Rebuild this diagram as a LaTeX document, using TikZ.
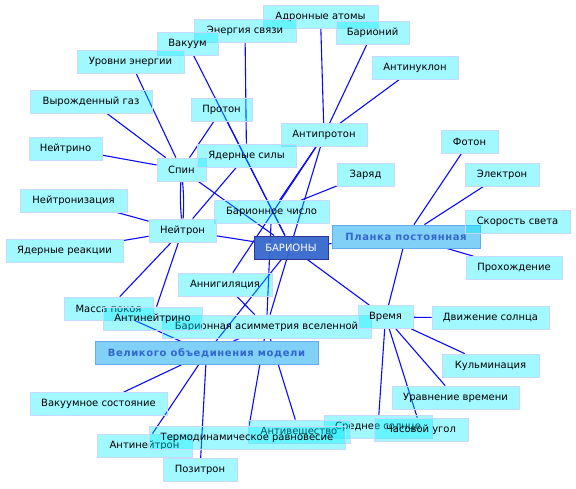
\documentclass[tikz,border=0pt]{standalone}
\usepackage{fontspec}
\setmainfont{DejaVu Sans}
\newfontfamily\theoryfont{DejaVu Sans}[LetterSpace=6]
\usepackage{xcolor}
\usepackage{tikz}
\pgfdeclarelayer{edges}
\pgfsetlayers{edges,main}

\definecolor{termfill}{RGB}{0,236,255}
\definecolor{termline}{RGB}{200,216,255}
\definecolor{corefill}{RGB}{51,102,204}
\definecolor{coreline}{RGB}{51,51,153}
\definecolor{theoryfill}{RGB}{128,208,248}
\definecolor{theoryline}{RGB}{102,170,238}
\definecolor{theorytext}{RGB}{51,102,204}
\definecolor{linkblue}{RGB}{10,10,255}

\begin{document}
\begin{tikzpicture}[x=1pt, y=-1pt,
  every node/.style={font=\fontsize{10}{11}\selectfont, minimum height=23pt, inner sep=0pt},
  term/.style={draw=termline, fill=termfill, fill opacity=0.37, text opacity=1, line width=0.8pt},
  core/.style={draw=coreline, fill=corefill, fill opacity=0.94, text opacity=1, text=white, line width=1pt},
  theory/.style={draw=theoryline, fill=theoryfill, line width=0.8pt, text=theorytext, font=\fontsize{10}{11}\theoryfont\bfseries},
  link/.style={linkblue, line width=1.1pt}]

  \useasboundingbox (0,0) rectangle (576,488);

  % ========== Top: binding, hadronic atoms ==========
  \node[term, minimum width=115pt] (adron) at (320.5,17) {Адронные атомы};
  \node[term, minimum width=102pt] (energy) at (245,31) {Энергия связи};
  \node[term, minimum width=73pt] (barionium) at (372.5,32.5) {Барионий};
  \node[term, minimum width=61pt] (vacuum) at (187.5,43.5) {Вакуум};
  \node[term, minimum width=107pt] (levels) at (130.5,61.5) {Уровни энергии};
  \node[term, minimum width=86pt] (antinucleon) at (415,68) {Антинуклон};
  \node[term, minimum width=122pt] (degenerate) at (91,101.5) {Вырожденный газ};
  \node[term, minimum width=61pt] (proton) at (221.5,110) {Протон};
  \node[term, minimum width=86pt] (antiproton) at (324,135) {Антипротон};
  \node[term, minimum width=57pt] (photon) at (469.5,141.5) {Фотон};
  \node[term, minimum width=73pt] (neutrino) at (65.5,148.5) {Нейтрино};
  \node[term, minimum width=49pt] (spin) at (181.5,169.5) {Спин};
  \node[term, minimum width=99pt] (nuclear) at (246.5,155.5) {Ядерные силы};
  \node[term, minimum width=74pt] (electron) at (502,174.5) {Электрон};
  \node[term, minimum width=57pt] (charge) at (365.5,174.5) {Заряд};

  % ========== Middle: neutron, baryons, Planck ==========
  \node[term, minimum width=107pt] (neutronization) at (73.5,200.5) {Нейтронизация};
  \node[term, minimum width=115pt] (baryonnum) at (271.5,212) {Барионное число};
  \node[term, minimum width=67pt] (neutron) at (182.5,230.5) {Нейтрон};
  \node[term, minimum width=117pt] (reactions) at (64.5,250.5) {Ядерные реакции};
  \node[core, minimum width=74pt] (hub) at (291,247.5) {БАРИОНЫ};
  \node[theory, minimum width=148pt] (planck) at (406,236.5) {Планка постоянная};
  \node[term, minimum width=105pt] (lightspeed) at (517.5,221.5) {Скорость света};
  \node[term, minimum width=96pt] (passage) at (514,268) {Прохождение};
  \node[term, minimum width=94pt] (annihil) at (225,284.5) {Аннигиляция};
  \node[term, minimum width=209pt] (asym) at (266.5,326.5) {Барионная асимметрия вселенной};
  \node[term, minimum width=89pt] (restmass) at (108.5,308.5) {Масса покоя};
  \node[term, minimum width=99pt] (antineutrino) at (152.5,318.5) {Антинейтрино};
  \node[term, minimum width=55pt] (time) at (385.5,317) {Время};
  \node[term, minimum width=117pt] (sunmotion) at (490.5,318) {Движение солнца};

  % ========== Bottom: grand unification, time ==========
  \node[theory, minimum width=223pt] (guto) at (206.5,353) {Великого объединения модели};
  \node[term, minimum width=97pt] (culmination) at (490.5,365.5) {Кульминация};
  \node[term, minimum width=127pt] (eqtime) at (455.5,397.5) {Уравнение времени};
  \node[term, minimum width=137pt] (vacstate) at (98.5,404) {Вакуумное состояние};
  \node[term, minimum width=108pt] (meansun) at (378,427) {Среднее солнце};
  \node[term, minimum width=94pt] (hourangle) at (421,429.5) {Часовой угол};
  \node[term, minimum width=102pt] (antimatter) at (299,431.5) {Антивещество};
  \node[term, minimum width=95pt] (antineutron) at (144.5,445.5) {Антинейтрон};
  \node[term, minimum width=196pt] (thermo) at (247,438) {Термодинамическое равновесие};
  \node[term, minimum width=74pt] (positron) at (200,470) {Позитрон};

  % ========== Connectors (under the boxes) ==========
  \begin{pgfonlayer}{edges}
    \draw[link] (adron) -- (antiproton);
    \draw[link] (barionium) -- (antiproton);
    \draw[link] (antinucleon) -- (antiproton);
    \draw[link] (energy) -- (nuclear);
    \draw[link] (vacuum) -- (hub);
    \draw[link] (levels) -- (spin);
    \draw[link] (degenerate) -- (spin);
    \draw[link] (neutrino) -- (spin);
    \draw[link] (proton) -- (spin);
    \draw[link] (proton) -- (hub);
    \draw[link] (spin) to[bend left=4] (neutron);
    \draw[link] (spin) to[bend right=4] (neutron);
    \draw[link] (spin) -- (hub);
    \draw[link] (nuclear) -- (neutron);
    \draw[link] (antiproton) -- (annihil);
    \draw[link] (antiproton) -- (baryonnum);
    \draw[link] (antiproton) -- (asym);
    \draw[link] (charge) -- (baryonnum);
    \draw[link] (baryonnum) -- (asym);
    % neutron
    \draw[link] (neutron) -- (neutronization);
    \draw[link] (neutron) -- (reactions);
    \draw[link] (neutron) -- (restmass);
    \draw[link] (neutron) -- (antineutrino);
    \draw[link] (neutron) -- (hub);
    % baryons
    \draw[link] (hub) -- (planck);
    \draw[link] (hub) -- (time);
    \draw[link] (hub) -- (guto);
    \draw[link] (annihil) -- (asym);
    % grand unification
    \draw[link] (restmass) -- (guto);
    \draw[link] (guto) -- (asym);
    \draw[link] (guto) -- (vacstate);
    \draw[link] (guto) -- (antineutron);
    \draw[link] (guto) -- (positron);
    \draw[link] (asym) -- (thermo);
    \draw[link] (asym) -- (antimatter);
    % Planck constant
    \draw[link] (planck) -- (time);
    \draw[link] (photon) -- (planck);
    \draw[link] (electron) -- (planck);
    \draw[link] (passage) -- (planck);
    % time
    \draw[link] (time) -- (sunmotion);
    \draw[link] (time) -- (culmination);
    \draw[link] (time) -- (eqtime);
    \draw[link] (time) -- (hourangle);
    \draw[link] (time) -- (meansun);
  \end{pgfonlayer}

\end{tikzpicture}
\end{document}
